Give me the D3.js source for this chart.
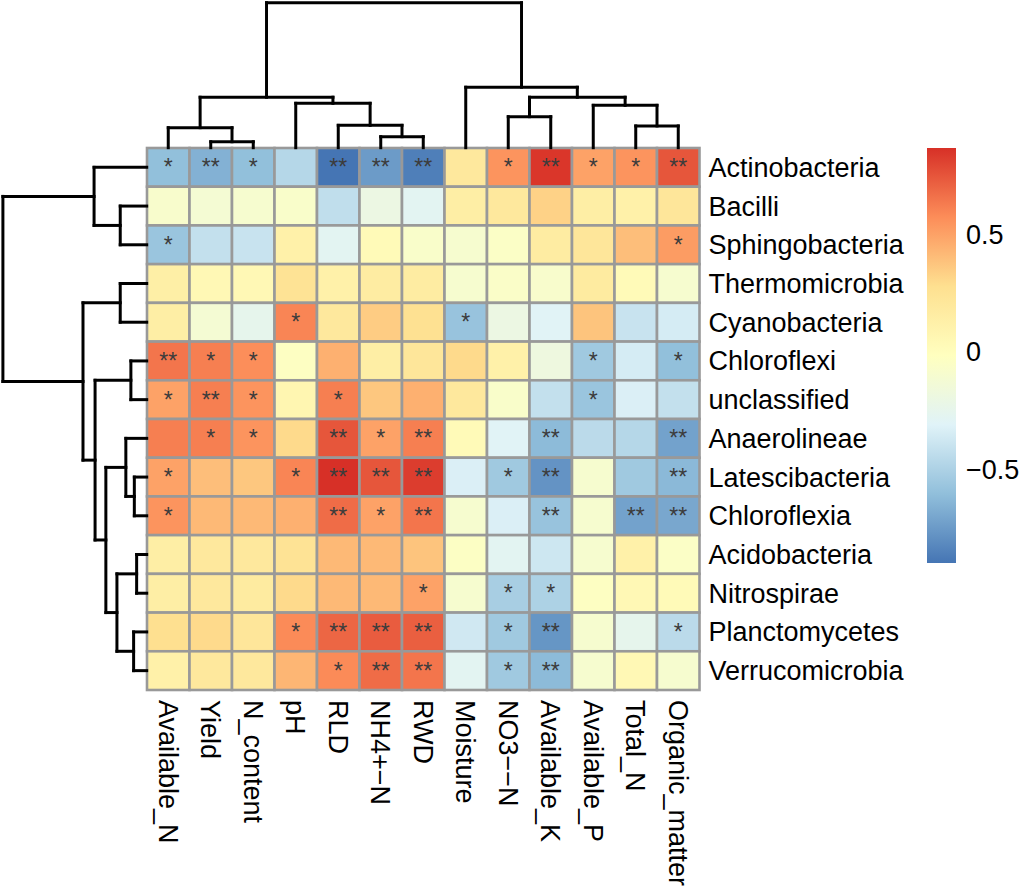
<!DOCTYPE html>
<html><head><meta charset="utf-8">
<script src="https://cdn.jsdelivr.net/npm/d3@7"></script>
<style>
body{margin:0;background:#fff}
text{font-family:"Liberation Sans",Arial,Helvetica,sans-serif}
</style>
</head><body>
<svg id="c" width="1022" height="892"></svg>
<script>
// ---------------- data ----------------
const rows = ["Actinobacteria","Bacilli","Sphingobacteria","Thermomicrobia","Cyanobacteria","Chloroflexi","unclassified","Anaerolineae","Latescibacteria","Chloroflexia","Acidobacteria","Nitrospirae","Planctomycetes","Verrucomicrobia"];
const cols = ["Available_N","Yield","N_content","pH","RLD","NH4+\u2212N","RWD","Moisture","NO3\u2212\u2212N","Available_K","Available_P","Total_N","Organic_matter"];

const values = [
  [-0.60,-0.66,-0.60,-0.47,-0.90,-0.75,-0.86, 0.20, 0.55, 0.85, 0.50, 0.55, 0.75],
  [-0.08,-0.12,-0.10,-0.07,-0.43,-0.20,-0.28, 0.15, 0.20, 0.33, 0.15, 0.12, 0.22],
  [-0.57,-0.42,-0.40, 0.12,-0.28, 0.03,-0.07,-0.10,-0.05, 0.17, 0.22, 0.40, 0.52],
  [ 0.14, 0.05, 0.05, 0.25, 0.12, 0.17, 0.17,-0.10,-0.06,-0.08, 0.18, 0.03,-0.10],
  [ 0.15,-0.12,-0.25, 0.60, 0.20, 0.35, 0.27,-0.58,-0.20,-0.30, 0.38,-0.40,-0.35],
  [ 0.65, 0.62, 0.57,-0.03, 0.45, 0.15, 0.22, 0.30, 0.12,-0.18,-0.55,-0.35,-0.60],
  [ 0.50, 0.62, 0.55, 0.07, 0.62, 0.37, 0.45, 0.20,-0.07,-0.42,-0.57,-0.33,-0.42],
  [ 0.62, 0.62, 0.55, 0.30, 0.75, 0.50, 0.62, 0.03,-0.30,-0.62,-0.45,-0.47,-0.72],
  [ 0.50, 0.40, 0.37, 0.60, 0.87, 0.75, 0.83,-0.33,-0.55,-0.78,-0.10,-0.55,-0.63],
  [ 0.55, 0.42, 0.42, 0.45, 0.68, 0.50, 0.65,-0.10,-0.33,-0.58,-0.10,-0.72,-0.70],
  [ 0.15, 0.20, 0.20, 0.25, 0.42, 0.42, 0.38,-0.04,-0.28,-0.38,-0.10, 0.12,-0.05],
  [ 0.15, 0.20, 0.18, 0.30, 0.42, 0.42, 0.50,-0.10,-0.52,-0.50,-0.03, 0.05, 0.03],
  [ 0.28, 0.30, 0.22, 0.58, 0.70, 0.73, 0.72,-0.37,-0.55,-0.77,-0.10,-0.25,-0.45],
  [ 0.12, 0.20, 0.20, 0.43, 0.58, 0.68, 0.65,-0.28,-0.55,-0.62,-0.10, 0.05,-0.10]
];

const signif = [
  ["*","**","*","","**","**","**","","*","**","*","*","**"],
  ["","","","","","","","","","","","",""],
  ["*","","","","","","","","","","","","*"],
  ["","","","","","","","","","","","",""],
  ["","","","*","","","","*","","","","",""],
  ["**","*","*","","","","","","","","*","","*"],
  ["*","**","*","","*","","","","","","*","",""],
  ["","*","*","","**","*","**","","","**","","","**"],
  ["*","","","*","**","**","**","","*","**","","","**"],
  ["*","","","","**","*","**","","","**","","**","**"],
  ["","","","","","","","","","","","",""],
  ["","","","","","","*","","*","*","","",""],
  ["","","","*","**","**","**","","*","**","","","*"],
  ["","","","","*","**","**","","*","**","","",""]
];

// dendrogram merges (leaf = display index, h = merge height, root = 100)
const colTree = {h:100, c:[
  {h:34.8, c:[{h:13.8, c:[0,{h:4.1,c:[1,2]}]}, {h:30.6, c:[3,{h:15.4,c:[4,{h:7.6,c:[5,6]}]}]}]},
  {h:41.7, c:[7,{h:34.8, c:[{h:21.4,c:[8,9]},{h:29.2,c:[10,{h:15.0,c:[11,12]}]}]}]}
]};
const rowTree = {h:100, c:[
  {h:36.6, c:[0,{h:18.4,c:[1,2]}]},
  {h:44.3, c:[{h:18.4,c:[3,4]},
    {h:35.9, c:[{h:11.0,c:[5,6]},
      {h:28.4, c:[{h:14.5,c:[7,{h:8.6,c:[8,9]}]},
                  {h:20.7,c:[{h:7.0,c:[10,11]},{h:9.1,c:[12,13]}]}]}]}]}
]};

const palette = ["#4575B4","#91BFDB","#E0F3F8","#FFFFBF","#FEE090","#FC8D59","#D73027"];
const legendTicks = [0.5, 0, -0.5];

// ---------------- layout ----------------
const svg = d3.select("#c");
const gx0 = 147, gx1 = 699.5, gy0 = 148, gy1 = 690;
const FS = 27;

const x = d3.scaleBand().domain(d3.range(cols.length)).range([gx0, gx1]);
const y = d3.scaleBand().domain(d3.range(rows.length)).range([gy0, gy1]);

const flat = values.flat();
const [vmin, vmax] = d3.extent(flat);
const color = d3.scaleLinear()
  .domain(palette.map((_, i) => vmin + i * (vmax - vmin) / (palette.length - 1)))
  .range(palette).interpolate(d3.interpolateRgb);

// cells
const cells = [];
values.forEach((r, i) => r.forEach((v, j) => cells.push({i, j, v, s: signif[i][j]})));
svg.append("g").selectAll("rect").data(cells).join("rect")
  .attr("x", d => x(d.j)).attr("y", d => y(d.i))
  .attr("width", x.bandwidth()).attr("height", y.bandwidth())
  .attr("fill", d => color(d.v))
  .attr("stroke", "#999999").attr("stroke-width", 2.6);

svg.append("g").selectAll("text").data(cells.filter(d => d.s)).join("text")
  .attr("x", d => x(d.j) + x.bandwidth() / 2)
  .attr("y", d => y(d.i) + y.bandwidth() / 2)
  .attr("dy", "0.35em").attr("text-anchor", "middle")
  .attr("font-size", 23).attr("fill", "#3C3C3C")
  .text(d => d.s);

// row labels
svg.append("g").selectAll("text").data(rows).join("text")
  .attr("x", gx1 + 9).attr("y", (d, i) => y(i) + y.bandwidth() / 2)
  .attr("dy", "0.35em").attr("font-size", FS).attr("fill", "#000")
  .text(d => d);

// column labels
svg.append("g").selectAll("text").data(cols).join("text")
  .attr("transform", (d, i) => `translate(${x(i) + x.bandwidth() / 2},${gy1 + 10}) rotate(90)`)
  .attr("dy", "0.35em").attr("font-size", FS).attr("fill", "#000")
  .text(d => d);

// dendrograms
function layoutTree(node, pos) {
  if (typeof node === "number") return {p: pos(node), h: 0};
  const kids = node.c.map(k => layoutTree(k, pos));
  return {p: d3.mean(kids, k => k.p), h: node.h, kids};
}
function segments(n, out) {
  if (!n.kids) return out;
  const ps = n.kids.map(k => k.p);
  out.push({a: [d3.min(ps), n.h], b: [d3.max(ps), n.h]});
  n.kids.forEach(k => { out.push({a: [k.p, k.h], b: [k.p, n.h]}); segments(k, out); });
  return out;
}

const colH = d3.scaleLinear().domain([0, 100]).range([gy0 - 0.3, 2.7]);
const colSegs = segments(layoutTree(colTree, i => x(i) + x.bandwidth() / 2), []);
svg.append("g").selectAll("line").data(colSegs).join("line")
  .attr("x1", d => d.a[0]).attr("y1", d => colH(d.a[1]))
  .attr("x2", d => d.b[0]).attr("y2", d => colH(d.b[1]))
  .attr("stroke", "#000").attr("stroke-width", 3).attr("stroke-linecap", "square");

const rowH = d3.scaleLinear().domain([0, 100]).range([gx0 - 0.3, 2.9]);
const rowSegs = segments(layoutTree(rowTree, i => y(i) + y.bandwidth() / 2), []);
svg.append("g").selectAll("line").data(rowSegs).join("line")
  .attr("y1", d => d.a[0]).attr("x1", d => rowH(d.a[1]))
  .attr("y2", d => d.b[0]).attr("x2", d => rowH(d.b[1]))
  .attr("stroke", "#000").attr("stroke-width", 3).attr("stroke-linecap", "square");

// legend
const ly = d3.scaleLinear().domain([vmin, vmax]).range([563, 148]);
const grad = svg.append("defs").append("linearGradient")
  .attr("id", "lg").attr("x1", 0).attr("y1", 1).attr("x2", 0).attr("y2", 0);
grad.selectAll("stop").data(palette).join("stop")
  .attr("offset", (d, i) => i / (palette.length - 1)).attr("stop-color", d => d);
svg.append("rect").attr("x", 927).attr("y", ly(vmax)).attr("width", 29)
  .attr("height", ly(vmin) - ly(vmax)).attr("fill", "url(#lg)");
svg.append("g").selectAll("text").data(legendTicks).join("text")
  .attr("x", 966).attr("y", d => ly(d)).attr("dy", "0.35em")
  .attr("font-size", FS).attr("fill", "#000")
  .text(d => d3.format("")(d).replace("-", "\u2212"));
</script>
</body></html>
